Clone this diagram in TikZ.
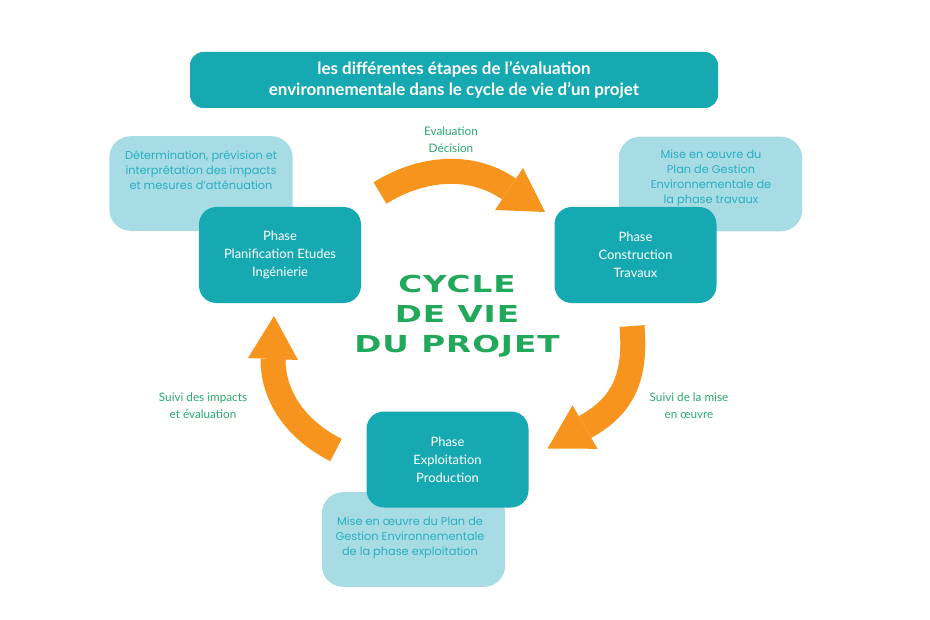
\documentclass[tikz,border=0pt]{standalone}
\usepackage{fontspec}
\setmainfont{Lato}
\newfontfamily\lightfont{Poppins}
\newfontfamily\cyclefont{DejaVu Sans}[FakeStretch=1.4,LetterSpace=4]
\definecolor{tealdark}{HTML}{17A9B2}
\definecolor{teallight}{HTML}{A7DCE4}
\definecolor{lighttext}{HTML}{2AAFC0}
\definecolor{arroworange}{HTML}{F7941E}
\definecolor{cyclegreen}{HTML}{22A85A}
\definecolor{labelgreen}{HTML}{2BAA6E}
\begin{document}
\begin{tikzpicture}[x=0.75pt,y=-0.75pt,
  titlebox/.style={rounded corners=10pt, fill=tealdark, text=white, align=center,
    inner sep=0pt, font=\fontsize{12.7}{15.75}\selectfont\bfseries},
  darkbox/.style={rounded corners=13pt, fill=tealdark, text=white, align=center,
    inner sep=0pt, minimum width=121.5pt, minimum height=72pt,
    font=\fontsize{9.7}{13.5}\selectfont},
  lightbox/.style={rounded corners=16pt, fill=teallight, inner sep=0pt,
    minimum width=137.5pt, minimum height=71pt},
  lighttxt/.style={text=lighttext, align=center, inner sep=0pt,
    font=\lightfont\fontsize{8.5}{11.4}\selectfont},
  steplabel/.style={text=labelgreen, align=center, inner sep=0pt,
    font=\fontsize{8.8}{13}\selectfont},
  arrowbody/.style={draw=arroworange, line width=18.75pt, line cap=butt},
  arrowhead/.style={fill=arroworange}
]
\fill[white] (0,0) rectangle (930,620);
\useasboundingbox (0,0) rectangle (930,620);

% title
\node[titlebox, minimum width=396pt, minimum height=42pt] (title) at (454,80)
  {les différentes étapes de l’évaluation\\environnementale dans le cycle de vie d’un projet};

% light boxes
\node[lightbox] (lleft) at (201,183.5) {};
\node[lightbox] (lright) at (710.5,184) {};
\node[lightbox] (lbottom) at (413.5,539.5) {};
\node[lighttxt] (tleft) at (201,170) {Détermination, prévision et\\interprétation des impacts\\et mesures d’atténuation};
\node[lighttxt] (tright) at (711,178) {Mise en œuvre du\\Plan de Gestion\\Environnementale de\\la phase travaux};
\node[lighttxt] (tbottom) at (410,537.5) {Mise en œuvre du Plan de\\Gestion Environnementale\\de la phase exploitation};

% dark boxes
\node[darkbox] (plan) at (280,255) {Phase\\Planification Etudes\\Ingénierie};
\node[darkbox] (constr) at (635.5,255) {Phase\\Construction\\Travaux};
\node[darkbox] (exploit) at (447.5,459.5) {Phase\\Exploitation\\Production};

% centre
\node[text=cyclegreen, align=center, inner sep=0pt,
  font=\cyclefont\bfseries\fontsize{17.5}{22.5}\selectfont] (cycle) at (457,316)
  {CYCLE\\DE VIE\\DU PROJET};

% arrows
\coordinate (a1s) at (380,193);
\coordinate (a1e) at (509,189);
\draw[arrowbody] (a1s) .. controls (420,168) and (470,162) .. (a1e);
\fill[arrowhead] (523,168) -- (545,212) -- (495,210) -- cycle;

\coordinate (a2s) at (632,326);
\coordinate (a2e) at (585,427);
\draw[arrowbody] (a2s) .. controls (636,375) and (625,405) .. (a2e);
\fill[arrowhead] (572.5,405.3) -- (547.6,448.5) -- (597.5,448.8) -- cycle;

\coordinate (a3s) at (336,450);
\coordinate (a3e) at (273,359);
\draw[arrowbody] (a3s) .. controls (300,432) and (273,400) .. (a3e);
\fill[arrowhead] (248,358) -- (274,316) -- (298,360) -- cycle;

% labels
\node[steplabel] (l1) at (451,140) {Evaluation\\Décision};
\node[steplabel] (l2) at (689,406) {Suivi de la mise\\en œuvre};
\node[steplabel] (l3) at (203,406) {Suivi des impacts\\et évaluation};
\end{tikzpicture}
\end{document}
